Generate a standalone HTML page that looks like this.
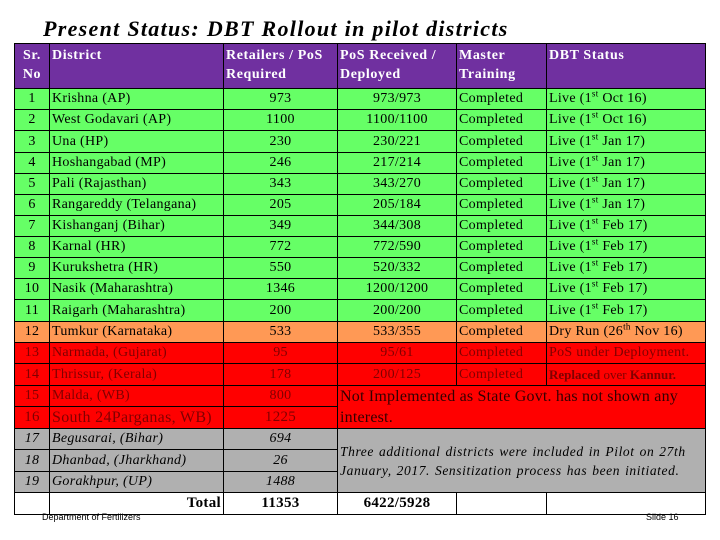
<!DOCTYPE html>
<html><head><meta charset="utf-8">
<style>
body{margin:0;width:720px;height:540px;background:#fff;position:relative;overflow:hidden;font-family:"Liberation Serif",serif;}
#title{position:absolute;left:43px;top:16px;font-size:22px;font-weight:bold;font-style:italic;color:#000;letter-spacing:1.3px;}
table{position:absolute;left:14px;top:43px;border-collapse:collapse;table-layout:fixed;width:691px;font-size:14px;letter-spacing:0.3px;}
td{border:1px solid #000;padding:0 2px;white-space:nowrap;overflow:hidden;vertical-align:middle;}
tr.h td{background:#7030a0;color:#fff;font-weight:bold;vertical-align:top;line-height:19px;padding-top:2px;letter-spacing:0.6px;}
tr.g td{background:#66ff66;}
tr.o td{background:#ff9955;}
tr.r td{background:#ff0000;color:#800000;}
tr.y td{background:#b0b0b0;font-style:italic;}
tr.t td{background:#fff;font-weight:bold;font-size:15px;}
.c{text-align:center}.rt{text-align:right}
sup{font-size:9px;line-height:0}
.foot{position:absolute;top:512px;font-family:"Liberation Sans",sans-serif;font-size:9px;}
</style></head><body>
<div id="title">Present Status: DBT Rollout in pilot districts</div>
<table>
<colgroup><col style="width:35px"><col style="width:174px"><col style="width:114px"><col style="width:119px"><col style="width:90px"><col style="width:159px"></colgroup>
<tr class="h" style="height:45px"><td class="c">Sr.<br>No</td><td>District</td><td>Retailers / PoS<br>Required</td><td>PoS Received /<br>Deployed</td><td>Master<br>Training</td><td>DBT Status</td></tr>
<tr class="g" style="height:21px"><td class="c">1</td><td>Krishna (AP)</td><td class="c">973</td><td class="c">973/973</td><td>Completed</td><td>Live (1<sup>st</sup> Oct 16)</td></tr>
<tr class="g" style="height:21px"><td class="c">2</td><td>West Godavari (AP)</td><td class="c">1100</td><td class="c">1100/1100</td><td>Completed</td><td>Live (1<sup>st</sup> Oct 16)</td></tr>
<tr class="g" style="height:22px"><td class="c">3</td><td>Una (HP)</td><td class="c">230</td><td class="c">230/221</td><td>Completed</td><td>Live (1<sup>st</sup> Jan 17)</td></tr>
<tr class="g" style="height:21px"><td class="c">4</td><td>Hoshangabad (MP)</td><td class="c">246</td><td class="c">217/214</td><td>Completed</td><td>Live (1<sup>st</sup> Jan 17)</td></tr>
<tr class="g" style="height:21px"><td class="c">5</td><td>Pali (Rajasthan)</td><td class="c">343</td><td class="c">343/270</td><td>Completed</td><td>Live (1<sup>st</sup> Jan 17)</td></tr>
<tr class="g" style="height:21px"><td class="c">6</td><td>Rangareddy (Telangana)</td><td class="c">205</td><td class="c">205/184</td><td>Completed</td><td>Live (1<sup>st</sup> Jan 17)</td></tr>
<tr class="g" style="height:21px"><td class="c">7</td><td>Kishanganj (Bihar)</td><td class="c">349</td><td class="c">344/308</td><td>Completed</td><td>Live (1<sup>st</sup> Feb 17)</td></tr>
<tr class="g" style="height:21px"><td class="c">8</td><td>Karnal (HR)</td><td class="c">772</td><td class="c">772/590</td><td>Completed</td><td>Live (1<sup>st</sup> Feb 17)</td></tr>
<tr class="g" style="height:21px"><td class="c">9</td><td>Kurukshetra (HR)</td><td class="c">550</td><td class="c">520/332</td><td>Completed</td><td>Live (1<sup>st</sup> Feb 17)</td></tr>
<tr class="g" style="height:21px"><td class="c">10</td><td>Nasik (Maharashtra)</td><td class="c">1346</td><td class="c">1200/1200</td><td>Completed</td><td>Live (1<sup>st</sup> Feb 17)</td></tr>
<tr class="g" style="height:22px"><td class="c">11</td><td>Raigarh (Maharashtra)</td><td class="c">200</td><td class="c">200/200</td><td>Completed</td><td>Live (1<sup>st</sup> Feb 17)</td></tr>
<tr class="o" style="height:21px"><td class="c">12</td><td>Tumkur (Karnataka)</td><td class="c">533</td><td class="c">533/355</td><td>Completed</td><td>Dry Run (26<sup>th</sup> Nov 16)</td></tr>
<tr class="r" style="height:21px"><td class="c">13</td><td>Narmada, (Gujarat)</td><td class="c">95</td><td class="c">95/61</td><td>Completed</td><td>PoS under Deployment.</td></tr>
<tr class="r" style="height:22px"><td class="c">14</td><td>Thrissur, (Kerala)</td><td class="c">178</td><td class="c">200/125</td><td>Completed</td><td style="font-size:13px;letter-spacing:0"><b>Replaced</b> over <b>Kannur.</b></td></tr>
<tr class="r" style="height:21px"><td class="c">15</td><td>Malda, (WB)</td><td class="c">800</td><td colspan="3" rowspan="2" style="color:#300;font-size:16px;letter-spacing:0.2px;white-space:normal;line-height:21px;vertical-align:top">Not Implemented as State Govt. has not shown any interest.</td></tr>
<tr class="r" style="height:22px"><td class="c" style="font-size:15px">16</td><td style="font-size:16px">South 24Parganas, WB)</td><td class="c" style="font-size:15px">1225</td></tr>
<tr class="y" style="height:21px"><td class="c">17</td><td>Begusarai, (Bihar)</td><td class="c">694</td><td colspan="3" rowspan="3" style="white-space:normal;line-height:19px;font-size:13.5px;letter-spacing:0.6px;word-spacing:1px">Three additional districts were included in Pilot on 27th January, 2017. Sensitization process has been initiated.</td></tr>
<tr class="y" style="height:22px"><td class="c">18</td><td>Dhanbad, (Jharkhand)</td><td class="c">26</td></tr>
<tr class="y" style="height:21px"><td class="c">19</td><td>Gorakhpur, (UP)</td><td class="c">1488</td></tr>
<tr class="t" style="height:22px"><td></td><td class="rt">Total</td><td class="c">11353</td><td class="c">6422/5928</td><td></td><td></td></tr>
</table>
<div class="foot" style="left:42px">Department of Fertilizers</div>
<div class="foot" style="left:646px">Slide 16</div>
</body></html>
